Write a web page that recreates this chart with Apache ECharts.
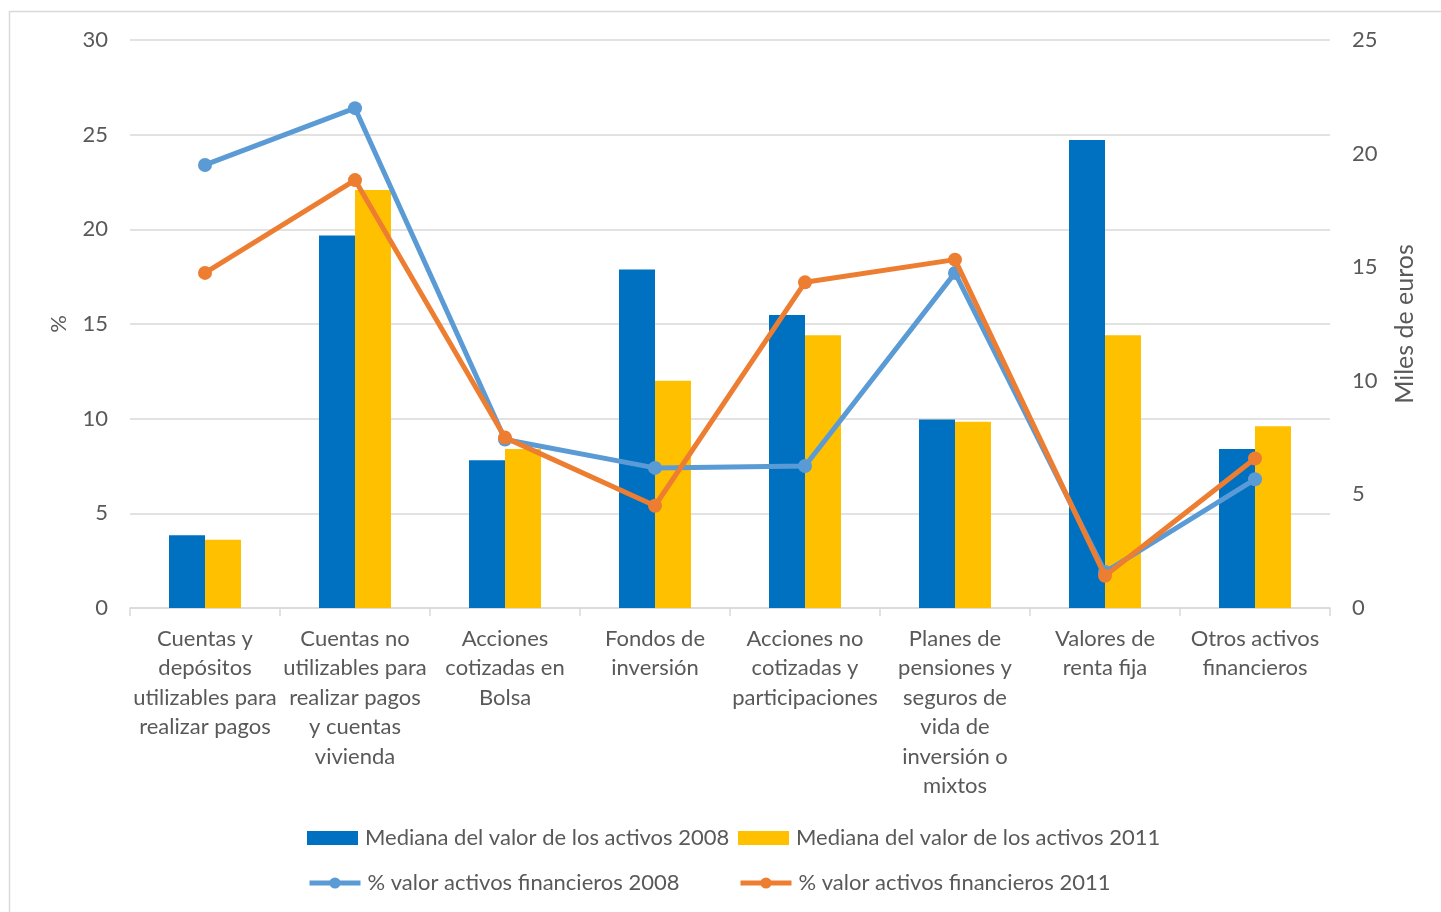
<!DOCTYPE html>
<html>
<head>
<meta charset="utf-8">
<title>Activos financieros 2008 / 2011</title>
<script src="https://cdn.jsdelivr.net/npm/echarts@6/dist/echarts.min.js"></script>
<style>
  html, body { margin: 0; padding: 0; background: #fff; }
  #chart { width: 1441px; height: 912px; }
</style>
</head>
<body>
<div id="chart"></div>
<script>
// ---- data ----
const categories = [
  'Cuentas y\ndepósitos\nutilizables para\nrealizar pagos',
  'Cuentas no\nutilizables para\nrealizar pagos\ny cuentas\nvivienda',
  'Acciones\ncotizadas en\nBolsa',
  'Fondos de\ninversión',
  'Acciones no\ncotizadas y\nparticipaciones',
  'Planes de\npensiones y\nseguros de\nvida de\ninversión o\nmixtos',
  'Valores de\nrenta fija',
  'Otros activos\nfinancieros',
];

// medians, thousands of euros (right axis)
const median2008 = [3.2, 16.4, 6.5, 14.9, 12.9, 8.3, 20.6, 7.0];
const median2011 = [3.0, 18.4, 7.0, 10.0, 12.0, 8.2, 12.0, 8.0];

// share of financial assets value, % (left axis)
const pct2008 = [23.4, 26.4, 8.9, 7.4, 7.5, 17.7, 1.9, 6.8];
const pct2011 = [17.7, 22.6, 9.0, 5.4, 17.2, 18.4, 1.7, 7.9];

const names = [
  'Mediana del valor de los activos 2008',
  'Mediana del valor de los activos 2011',
  '% valor activos financieros 2008',
  '% valor activos financieros 2011',
];

// ---- style ----
const FONT = 'Lato, "Open Sans", sans-serif';
const TXT = '#595959';
const GRID = '#d9d9d9';
const FS = 22;

function legendAt(name, left, top, color, isLine) {
  const item = { name: name };
  if (isLine) {
    item.lineStyle = { width: 5, color: color };
    item.itemStyle = { color: color };
  }
  return {
    data: [item],
    left: left,
    top: top,
    padding: 0,
    itemWidth: 51,
    itemHeight: 14,
    itemGap: 0,
    selectedMode: false,
    textStyle: { fontFamily: FONT, fontSize: FS, color: TXT, padding: [0, 0, 0, 2] },
    icon: isLine ? undefined : 'rect',
  };
}

const chart = echarts.init(document.getElementById('chart'));

chart.setOption({
  backgroundColor: '#fff',
  animation: false,
  textStyle: { fontFamily: FONT },
  graphic: [{
    type: 'rect',
    shape: { x: 9.5, y: 11.5, width: 1500, height: 1000 },
    style: { fill: 'none', stroke: GRID, lineWidth: 1.5 },
    silent: true,
  }],
  grid: { left: 130, right: 111, top: 40, bottom: 304 },
  legend: [
    legendAt(names[0], 307, 827, '#0070C0', false),
    legendAt(names[1], 738, 827, '#FFC000', false),
    legendAt(names[2], 307, 872, '#5B9BD5', true),
    legendAt(names[3], 738, 872, '#ED7D31', true),
  ],
  xAxis: {
    type: 'category',
    data: categories,
    axisLine: { lineStyle: { color: GRID, width: 1.5 } },
    axisTick: { show: true, length: 8, lineStyle: { color: GRID, width: 1.5 } },
    axisLabel: {
      interval: 0,
      margin: 16,
      fontSize: FS,
      lineHeight: 29.5,
      color: TXT,
      fontFamily: FONT,
    },
  },
  yAxis: [
    {
      type: 'value',
      min: 0, max: 30, interval: 5,
      name: '%',
      nameLocation: 'middle',
      nameGap: 60,
      nameTextStyle: { fontSize: FS, color: TXT, fontFamily: FONT },
      axisLine: { show: false },
      axisTick: { show: false },
      axisLabel: { fontSize: FS, color: TXT, margin: 22, fontFamily: FONT },
      splitLine: { lineStyle: { color: GRID, width: 1.5 } },
    },
    {
      type: 'value',
      min: 0, max: 25, interval: 5,
      name: 'Miles de euros',
      nameLocation: 'middle',
      nameGap: 62,
      nameTextStyle: { fontSize: 25, color: TXT, fontFamily: FONT },
      axisLine: { show: false },
      axisTick: { show: false },
      axisLabel: { fontSize: FS, color: TXT, margin: 22, fontFamily: FONT },
      splitLine: { show: false },
    },
  ],
  series: [
    {
      name: names[0],
      type: 'bar',
      yAxisIndex: 1,
      data: median2008,
      barWidth: 36,
      barGap: '0%',
      itemStyle: { color: '#0070C0' },
    },
    {
      name: names[1],
      type: 'bar',
      yAxisIndex: 1,
      data: median2011,
      barWidth: 36,
      barGap: '0%',
      itemStyle: { color: '#FFC000' },
    },
    {
      name: names[2],
      type: 'line',
      yAxisIndex: 0,
      data: pct2008,
      symbol: 'circle',
      symbolSize: 14,
      lineStyle: { color: '#5B9BD5', width: 5 },
      itemStyle: { color: '#5B9BD5' },
      z: 3,
    },
    {
      name: names[3],
      type: 'line',
      yAxisIndex: 0,
      data: pct2011,
      symbol: 'circle',
      symbolSize: 14,
      lineStyle: { color: '#ED7D31', width: 5 },
      itemStyle: { color: '#ED7D31' },
      z: 4,
    },
  ],
});

window.addEventListener('resize', () => chart.resize());
</script>
</body>
</html>
